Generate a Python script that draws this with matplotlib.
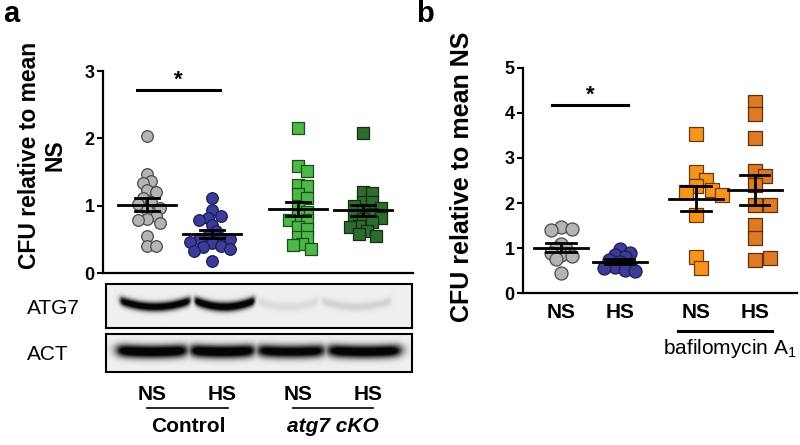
import matplotlib
matplotlib.use('Agg')
import matplotlib.pyplot as plt
from matplotlib.lines import Line2D
import numpy as np

plt.rcParams['font.family'] = ['Liberation Sans', 'DejaVu Sans']
plt.rcParams['mathtext.fontset'] = 'custom'
plt.rcParams['mathtext.rm'] = 'Liberation Sans'
plt.rcParams['mathtext.it'] = 'Liberation Sans:italic'

# === Data: panel a (CFU relative to mean NS) ===
a_labels = ['NS', 'HS', 'NS', 'HS']
a_groups = ['Control', 'atg7 cKO']
a_ctrl_ns = [2.04, 1.47, 1.36, 1.33, 1.23, 1.21, 1.12, 1.06, 1.02, 0.97,
             0.93, 0.84, 0.80, 0.78, 0.74, 0.55, 0.40, 0.40]
a_ctrl_hs = [1.12, 0.93, 0.85, 0.82, 0.79, 0.72, 0.62, 0.55, 0.52, 0.50,
             0.50, 0.46, 0.44, 0.40, 0.38, 0.36, 0.33, 0.18]
a_cko_ns = [2.16, 1.59, 1.52, 1.31, 1.29, 1.17, 1.12, 0.98, 0.90, 0.85,
            0.79, 0.78, 0.68, 0.66, 0.54, 0.53, 0.43, 0.41, 0.35]
a_cko_hs = [2.08, 1.20, 1.19, 1.06, 1.05, 1.00, 0.97, 0.92, 0.88, 0.84,
            0.82, 0.80, 0.76, 0.70, 0.69, 0.62, 0.58, 0.55]

# western blot band strength per lane (0 = none, 1 = full)
blot_rows = ['ATG7', 'ACT']
atg7_bands = [0.95, 1.0, 0.07, 0.10]
act_bands = [1.0, 1.0, 0.92, 0.97]

# === Data: panel b ===
b_labels = ['NS', 'HS', 'NS', 'HS']
b_ns = [1.48, 1.42, 1.40, 1.10, 0.98, 1.00, 0.90, 0.85, 0.82, 0.75, 0.46]
b_hs = [0.98, 0.90, 0.85, 0.80, 0.74, 0.70, 0.62, 0.58, 0.55, 0.52, 0.50]
b_baf_ns = [3.52, 2.68, 2.52, 2.38, 2.30, 2.25, 2.18, 1.74, 0.80, 0.57]
b_baf_hs = [4.25, 3.97, 3.44, 2.70, 2.59, 2.40, 1.96, 1.96, 1.51, 1.22,
            0.74, 0.78]

# === Layout helpers (pixel -> figure fraction) ===
W, H = 800, 445
fig = plt.figure(figsize=(8, 4.45), dpi=100)


def fx(px):
    return px / W


def fy(py):
    return 1 - py / H


def swarm_x(vals, pos, xpx, ypx, diam, gap):
    """Simple beeswarm: spread points sideways so they overlap only a bit."""
    placed = []
    xs = []
    step = diam * 0.4
    cands = [0.0]
    for k in range(1, 40):
        cands += [k * step, -k * step]
    for v in vals:
        y = v * ypx
        for c in cands:
            if all((c - px) ** 2 + (y - py) ** 2 >= (gap * diam) ** 2 for px, py in placed):
                break
        placed.append((c, y))
        xs.append(pos + c / xpx)
    return xs


def draw_group(ax, vals, pos, marker, face, edge, size, diam, gap, xpx, ypx, half, cap):
    xs = swarm_x(vals, pos, xpx, ypx, diam, gap)
    ax.scatter(xs, vals, s=size, marker=marker, facecolor=face, edgecolor=edge,
               linewidth=0.9, zorder=3, clip_on=False)
    v = np.array(vals)
    m = v.mean()
    sem = v.std(ddof=1) / np.sqrt(len(v))
    ax.plot([pos - half, pos + half], [m, m], color='k', lw=2, zorder=4)
    ax.plot([pos, pos], [m - sem, m + sem], color='k', lw=2, zorder=4)
    for yy in (m - sem, m + sem):
        ax.plot([pos - cap, pos + cap], [yy, yy], color='k', lw=2, zorder=4)


def style_axes(ax):
    for s in ['top', 'right']:
        ax.spines[s].set_visible(False)
    for s in ['left', 'bottom']:
        ax.spines[s].set_linewidth(1.6)
    ax.tick_params(axis='y', length=4, width=1.5, labelsize=13, pad=2)
    for t in ax.get_yticklabels():
        t.set_fontweight('bold')


# === Panel a ===
ax_a = fig.add_axes([fx(103), fy(273), fx(413) - fx(103), fy(71) - fy(273)])
a_pos = [1, 2, 3.32, 4.32]
ax_a.set_xlim(0.323, 5.09)
ax_a.set_ylim(0, 3)
ax_a.set_yticks([0, 1, 2, 3])
ax_a.set_xticks([])
style_axes(ax_a)
xpx_a = 310 / (5.09 - 0.323)
ypx_a = 202 / 3
a_sets = [
    (a_ctrl_ns, 'o', '#b4b4b4', '#4a4a4a'),
    (a_ctrl_hs, 'o', '#3c3c98', '#1c1c55'),
    (a_cko_ns, 's', '#4cb848', '#1d4d1b'),
    (a_cko_hs, 's', '#2f6b2f', '#142e14'),
]
for (vals, mk, fc, ec), p in zip(a_sets, a_pos):
    size = 70 if mk == 'o' else 78
    draw_group(ax_a, vals, p, mk, fc, ec, size, 11, 0.72, xpx_a, ypx_a, 0.44, 0.19)

ax_a.plot([0.846, 2.123], [2.72, 2.72], color='k', lw=2.2, clip_on=False)
ax_a.text(1.48, 2.70, '*', ha='center', va='bottom', fontsize=16, fontweight='bold')

fig.text(fx(30), fy(155), 'CFU relative to mean', rotation=90, ha='center',
         va='center', fontsize=16.5, fontweight='bold')
fig.text(fx(55), fy(155), 'NS', rotation=90, ha='center', va='center',
         fontsize=16.5, fontweight='bold')
fig.text(fx(11), fy(14), 'a', ha='center', va='center', fontsize=21, fontweight='bold')


# === Western blot strips ===
def blot_image(lanes, strength, yc, sig, curve, edge, ncols=400, nrows=60):
    x = np.linspace(0, 1, ncols)
    y = np.linspace(0, 1, nrows)
    X, Y = np.meshgrid(x, y)
    dark = np.zeros_like(X)
    for (x0, x1), s in zip(lanes, strength):
        cx = (x0 + x1) / 2
        hw = (x1 - x0) / 2
        u = (X - cx) / hw
        horiz = 1 / (1 + np.exp((np.abs(u) - 0.95) * edge))
        yy = yc - curve * u ** 2
        vert = np.exp(-0.5 * ((Y - yy) / sig) ** 2)
        dark = np.maximum(dark, s * horiz * vert)
    return 0.94 - 0.92 * np.clip(dark * 1.3, 0, 1)


atg7_lanes = [(0.04, 0.28), (0.285, 0.49), (0.49, 0.70), (0.70, 0.94)]
act_lanes = [(0.03, 0.27), (0.27, 0.49), (0.49, 0.72), (0.72, 0.97)]
blot_specs = [
    (284, 328, atg7_lanes, atg7_bands, 0.52, 0.075, 0.16, 30),
    (334, 372, act_lanes, act_bands, 0.48, 0.12, 0.04, 12),
]
for name, (top, bot, lanes, strength, yc, sig, curve, edge) in zip(blot_rows, blot_specs):
    bax = fig.add_axes([fx(106), fy(bot), fx(412) - fx(106), fy(top) - fy(bot)])
    bax.imshow(blot_image(lanes, strength, yc, sig, curve, edge), cmap='gray',
               vmin=0, vmax=1, aspect='auto', interpolation='bilinear')
    bax.set_xticks([])
    bax.set_yticks([])
    for s in bax.spines.values():
        s.set_linewidth(1.5)
    fig.text(fx(27), fy((top + bot) / 2 + 2), name, ha='left', va='center', fontsize=15)

# labels below the blot
for lab, px in zip(a_labels, [152, 222, 298, 368]):
    fig.text(fx(px), fy(395), lab, ha='center', va='center', fontsize=15, fontweight='bold')
fig.add_artist(Line2D([fx(147), fx(228)], [fy(408), fy(408)], color='k', lw=1.2))
fig.add_artist(Line2D([fx(293), fx(373)], [fy(408), fy(408)], color='k', lw=1.2))
fig.text(fx(188), fy(427), a_groups[0], ha='center', va='center', fontsize=15,
         fontweight='bold')
fig.text(fx(333), fy(427), a_groups[1], ha='center', va='center', fontsize=15,
         fontweight='bold', style='italic')

# === Panel b ===
ax_b = fig.add_axes([fx(523), fy(293.3), fx(797) - fx(523), fy(67.7) - fy(293.3)])
b_pos = [1, 2, 3.3, 4.3]
ax_b.set_xlim(0.35, 5.02)
ax_b.set_ylim(0, 5)
ax_b.set_yticks([0, 1, 2, 3, 4, 5])
ax_b.set_xticks(b_pos)
ax_b.set_xticklabels(b_labels, fontsize=15, fontweight='bold')
ax_b.tick_params(axis='x', length=0, pad=7)
style_axes(ax_b)
xpx_b = 274 / (5.02 - 0.35)
ypx_b = 225.6 / 5
b_sets = [
    (b_ns, 'o', '#b4b4b4', '#4a4a4a', 0.5),
    (b_hs, 'o', '#3c3c98', '#1c1c55', 0.5),
    (b_baf_ns, 's', '#f7941e', '#6b3b10', 0.85),
    (b_baf_hs, 's', '#df7a24', '#5e3210', 0.85),
]
for (vals, mk, fc, ec, gap), p in zip(b_sets, b_pos):
    size = 88 if mk == 'o' else 92
    draw_group(ax_b, vals, p, mk, fc, ec, size, 13, gap, xpx_b, ypx_b, 0.46, 0.25)

ax_b.plot([0.846, 2.145], [4.17, 4.17], color='k', lw=2.2, clip_on=False)
ax_b.text(1.5, 4.15, '*', ha='center', va='bottom', fontsize=16, fontweight='bold')

fig.text(fx(462), fy(177), 'CFU relative to mean NS', rotation=90, ha='center',
         va='center', fontsize=18, fontweight='bold')
fig.text(fx(425), fy(14), 'b', ha='center', va='center', fontsize=21, fontweight='bold')

fig.add_artist(Line2D([fx(678), fx(772)], [fy(331), fy(331)], color='k', lw=2.2))
fig.text(fx(730), fy(348), 'bafilomycin A$_1$', ha='center', va='center', fontsize=15)

fig.savefig('out.png', dpi=100)
